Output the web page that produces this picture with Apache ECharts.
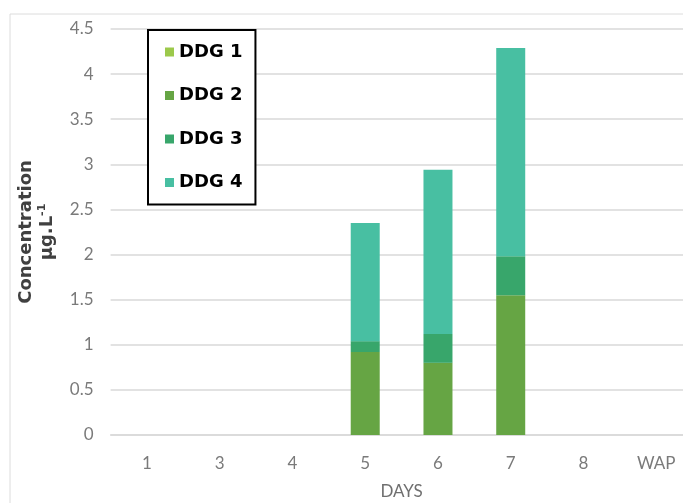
<!DOCTYPE html>
<html><head><meta charset="utf-8">
<script src="https://cdn.jsdelivr.net/npm/echarts@6/dist/echarts.min.js"></script>
<style>html,body{margin:0;padding:0;background:#fff}#c{width:683px;height:503px}</style>
</head><body><div id="c"></div>
<script>
const categories = ['1','3','4','5','6','7','8','WAP'];
const seriesNames = ['DDG 1','DDG 2','DDG 3','DDG 4'];
const ddg1 = [0,0,0,0,0,0,0,0];
const ddg2 = [0,0,0,0.92,0.80,1.55,0,0];
const ddg3 = [0,0,0,0.12,0.32,0.43,0,0];
const ddg4 = [0,0,0,1.31,1.82,2.31,0,0];
const yTicks = [0,0.5,1,1.5,2,2.5,3,3.5,4,4.5];
const colors = ['#9cc94b','#66a544','#38a66b','#48bfa2'];
const seriesData = [ddg1, ddg2, ddg3, ddg4];

const chart = echarts.init(document.getElementById('c'));
chart.setOption({
  animation:false,
  backgroundColor:'#fff',
  graphic:[{type:'rect',shape:{x:10,y:14,width:700,height:520},style:{fill:'none',stroke:'#dcdcdc',lineWidth:1},z:-1}],
  grid:{left:110.6,width:582,top:29,height:406,outerBoundsMode:'none',containLabel:false},
  legend:{
    orient:'vertical',left:148,top:30,
    data:seriesNames,
    backgroundColor:'#fff',borderColor:'#000',borderWidth:2,
    padding:[12,13,12,17],itemGap:23.5,
    icon:'rect',itemWidth:9,itemHeight:9,
    textStyle:{fontFamily:'DejaVu Sans',fontWeight:'bold',fontSize:18,color:'#000',lineHeight:20}
  },
  xAxis:{
    type:'category',data:categories,
    name:'DAYS',nameLocation:'middle',nameGap:48,
    nameTextStyle:{fontFamily:'Lato',fontSize:17,color:'#6f6f6f'},
    axisLine:{lineStyle:{color:'#d9d9d9',width:1.5}},
    axisTick:{show:false},
    axisLabel:{fontFamily:'Lato',fontSize:17,color:'#7a7a7a',margin:20}
  },
  yAxis:{
    type:'value',min:yTicks[0],max:yTicks[yTicks.length-1],interval:0.5,
    name:'{b|Concentration}\n{b|µg.L}{s|-1}',nameLocation:'middle',nameGap:53,nameRotate:90,
    nameTextStyle:{rich:{b:{fontFamily:'DejaVu Sans',fontWeight:'bold',fontSize:18,color:'#404040',lineHeight:21},
      s:{fontFamily:'DejaVu Sans',fontWeight:'bold',fontSize:11,color:'#404040',verticalAlign:'top',lineHeight:21}}},
    axisLine:{show:false},axisTick:{show:false},
    splitLine:{lineStyle:{color:'#d9d9d9',width:1.5}},
    axisLabel:{fontFamily:'Lato',fontSize:17,color:'#7a7a7a',margin:17,
      formatter:v=>String(v)}
  },
  series:seriesNames.map((n,i)=>({
    name:n,type:'bar',stack:'all',data:seriesData[i],barWidth:29,
    itemStyle:{color:colors[i]}
  }))
});
</script></body></html>
